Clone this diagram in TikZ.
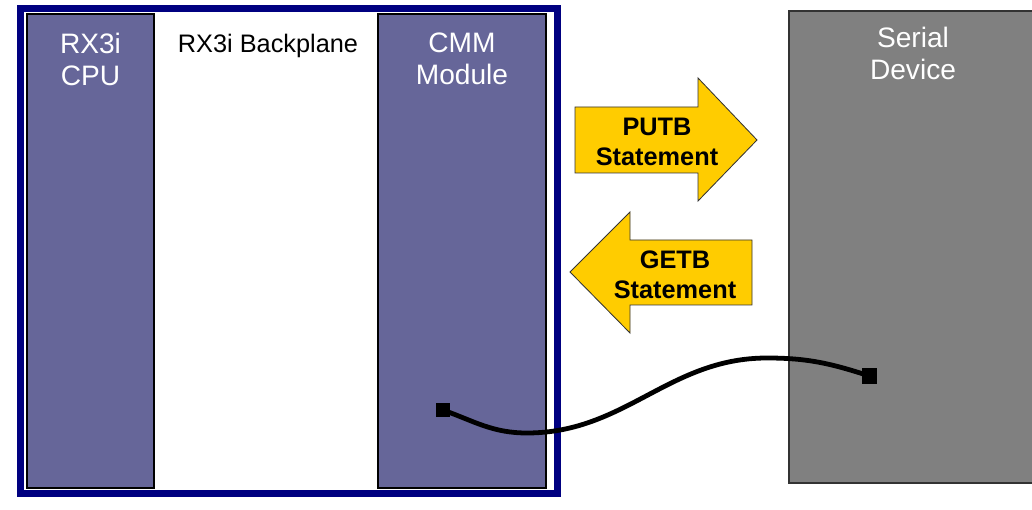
\documentclass[tikz,border=0pt]{standalone}
\usepackage{fontspec}
\setmainfont{Liberation Sans}
\usetikzlibrary{positioning}
\definecolor{slate}{HTML}{666699}
\definecolor{navyframe}{HTML}{000080}
\definecolor{putgold}{HTML}{FFCC00}
\definecolor{devgray}{HTML}{808080}

\begin{document}
\begin{tikzpicture}[
  x=0.025cm, y=-0.025cm,
  module/.style={draw=black, line width=1.4pt, fill=slate, minimum height=11.85cm, inner sep=0pt},
  lbl/.style={align=center, inner sep=0pt, text=white, font=\fontsize{20}{22.7}\selectfont},
  flow/.style={draw=black!80, line width=0.6pt, fill=putgold},
  flowtxt/.style={align=center, inner sep=0pt, font=\fontsize{18}{21}\selectfont\bfseries},
  plug/.style={fill=black, minimum width=0.36cm, minimum height=0.36cm, inner sep=0pt},
  cable/.style={line width=3.4pt, black},
]
\useasboundingbox (0,0) rectangle (1032,510);

% rack with backplane
\node[draw=navyframe, line width=5pt, minimum width=13.425cm, minimum height=12.125cm, inner sep=0pt] (rack) at (289,251) {};
\node[module, minimum width=3.175cm] (cpu) at (90.5,251) {};
\node[module, minimum width=4.2cm] (cmm) at (462,251) {};
\node[lbl] (cpulbl) at (90.5,59) {RX3i\\CPU};
\node[lbl] (cmmlbl) at (462,59) {CMM\\Module};
\node[inner sep=0pt, font=\fontsize{18}{21}\selectfont] (bplbl) at (268,46) {RX3i Backplane};

% serial device
\node[draw=black!80, line width=1.4pt, fill=devgray, minimum width=6.4cm, minimum height=11.8cm, inner sep=0pt] (dev) at (917,247) {};
\node[lbl] (devlbl) at (913,53) {Serial\\Device};

% PUTB / GETB block arrows
\draw[flow] (575,107) -- (698,107) -- (698,78) -- (757,140) -- (698,201) -- (698,173) -- (575,173) -- cycle;
\node[flowtxt] (putb) at (657,142) {PUTB\\Statement};
\draw[flow] (752,240) -- (630,240) -- (630,212) -- (570,272) -- (630,333) -- (630,305) -- (752,305) -- cycle;
\node[flowtxt] (getb) at (675,275) {GETB\\Statement};

% serial cable
\node[plug] (p1) at (443,410) {};
\node[plug, minimum height=0.4cm] (p2) at (869.5,376) {};
\coordinate (dip) at (527,433);
\coordinate (crest) at (767,358);
\draw[cable] (p1.center) to[out=-20, in=180] (dip) to[out=0, in=180] (crest) to[out=0, in=162] (p2.center);
\end{tikzpicture}
\end{document}
